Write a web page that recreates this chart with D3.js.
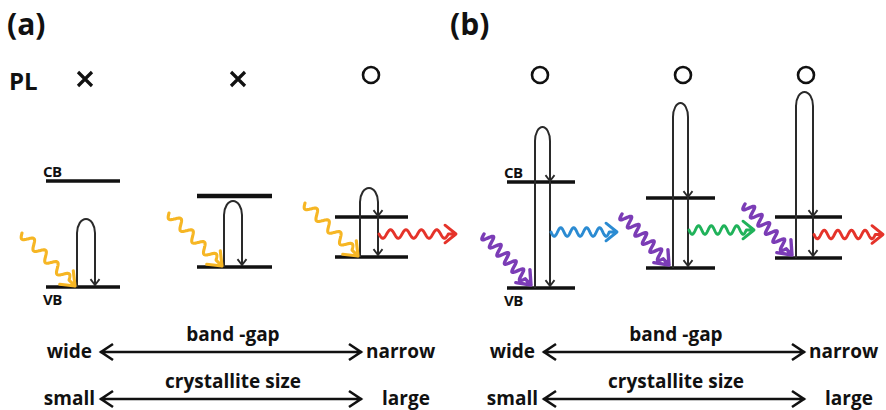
<!DOCTYPE html>
<html>
<head>
<meta charset="utf-8">
<script src="https://cdn.jsdelivr.net/npm/d3@7"></script>
<style>
  body { margin: 0; background: #fff; }
  text { font-family: "Open Sans", sans-serif; font-weight: 700; fill: #111; }
</style>
</head>
<body>
<div id="diagram"></div>
<script>
// ---- data (energies in arbitrary units, VB/CB/excitation apex per diagram) ----
const panels = ["(a)", "(b)"];
const plMarks = ["x", "x", "o", "o", "o", "o"];
const vbEnergy = [13, 33, 43, 12, 32, 42];
const cbEnergy = [119, 104, 83, 118, 102, 83];
const apexEnergy = [81, 99, 112, 173, 197, 208];
const excitation = ["visible", "visible", "visible", "uv", "uv", "uv"];
const emission = [null, null, "red", "blue", "green", "red"];
const bandLabels = ["wide", "band -gap", "narrow"];
const sizeLabels = ["small", "crystallite size", "large"];

// ---- layout ----
const width = 886, height = 410;
const panelX = [0, 443];
const diag = [
  { x: 46,  w: 74, up: 31, lw: 18, mark: 85,  emit: 0 },
  { x: 197, w: 75, up: 27, lw: 18, mark: 238, emit: 0 },
  { x: 335, w: 73, up: 25, lw: 18, mark: 371, emit: 77 },
  { x: 507, w: 68, up: 28, lw: 15, mark: 540, emit: 66 },
  { x: 646, w: 69, up: 27, lw: 15, mark: 683, emit: 65 },
  { x: 775, w: 67, up: 21, lw: 17, mark: 806, emit: 69 }
];
const waveColor = { visible: "#f6b624", uv: "#7b3cb6", red: "#e5332a", blue: "#2b8bd2", green: "#20b25a" };

const svg = d3.select("#diagram")
  .append("svg")
    .attr("width", width)
    .attr("height", height);

// energy -> vertical position
const y = d3.scaleLinear().domain([0, 200]).range([300, 100]);

// wavy arrow path with open chevron head
function wavy(x0, y0, x1, y1, waves, amp, head) {
  const dx = x1 - x0, dy = y1 - y0, L = Math.hypot(dx, dy);
  const ux = dx / L, uy = dy / L, nx = -uy, ny = ux;
  const wl = L - head * 0.7;
  const pts = [];
  for (let i = 0; i <= 160; i++) {
    const t = i / 160 * wl;
    const off = amp * Math.sin(2 * Math.PI * waves * t / wl);
    pts.push([x0 + ux * t + nx * off, y0 + uy * t + ny * off]);
  }
  pts.push([x1, y1]);
  const hw = head * 0.8;
  const b = [x1 - ux * head, y1 - uy * head];
  return d3.line()(pts) +
    `M${b[0] + nx * hw},${b[1] + ny * hw}L${x1},${y1}L${b[0] - nx * hw},${b[1] - ny * hw}`;
}

function chevronDown(x, yTip, s) {
  return `M${x - s},${yTip - s * 1.3}L${x},${yTip}L${x + s},${yTip - s * 1.3}`;
}

// panel letters and PL label
svg.selectAll(".panel")
  .data(panels)
  .join("text")
    .attr("class", "panel")
    .attr("x", (d, i) => panelX[i] + 7)
    .attr("y", 35)
    .style("font-size", "30px")
    .text(d => d);

svg.append("text")
  .attr("x", 9)
  .attr("y", 90)
  .style("font-size", "24px")
  .text("PL");

// PL marks
plMarks.forEach((m, i) => {
  const cx = diag[i].mark;
  if (m === "x") {
    svg.append("path")
      .attr("d", `M${cx - 7},${72}L${cx + 7},${86}M${cx + 7},${72}L${cx - 7},${86}`)
      .attr("stroke", "#111").attr("stroke-width", 3.2).attr("fill", "none");
  } else {
    svg.append("circle")
      .attr("cx", cx).attr("cy", 75).attr("r", 8)
      .attr("stroke", "#111").attr("stroke-width", 2.6).attr("fill", "none");
  }
});

// band diagrams
diag.forEach((d, i) => {
  const g = svg.append("g");
  const yVB = y(vbEnergy[i]), yCB = y(cbEnergy[i]), yTop = y(apexEnergy[i]);
  const xu = d.x + d.up, xd = xu + d.lw;

  // levels
  [yCB, yVB].forEach(yy => {
    g.append("line")
      .attr("x1", d.x).attr("x2", d.x + d.w)
      .attr("y1", yy).attr("y2", yy)
      .attr("stroke", "#111").attr("stroke-width", i === 1 && yy === yCB ? 4.5 : 3.6);
  });

  // excitation loop
  const ry = Math.min(14, (yVB - yTop) / 3);
  g.append("path")
    .attr("d", `M${xu},${yVB}L${xu},${yTop + ry}A${d.lw / 2},${ry} 0 0 1 ${xd},${yTop + ry}L${xd},${yVB - 1}`)
    .attr("fill", "none").attr("stroke", "#2a2a2a").attr("stroke-width", 2);
  if (yTop < yCB) {
    g.append("path").attr("d", chevronDown(xd, yCB - 1, 4.5))
      .attr("fill", "none").attr("stroke", "#2a2a2a").attr("stroke-width", 1.8);
  }
  g.append("path").attr("d", chevronDown(xd, yVB - 2, 4.5))
    .attr("fill", "none").attr("stroke", "#2a2a2a").attr("stroke-width", 1.8);

  // incoming light
  const uv = excitation[i] === "uv";
  const ex = xu - (uv ? 4 : 2), ey = yVB - (uv ? 3 : 1);
  g.append("path")
    .attr("d", uv ? wavy(ex - 47, ey - 51, ex, ey, 5.5, 5.2, 12) : wavy(ex - 53, ey - 53, ex, ey, 4, 4.5, 12))
    .attr("fill", "none")
    .attr("stroke", waveColor[excitation[i]])
    .attr("stroke-width", uv ? 3.4 : 3.1)
    .attr("stroke-linecap", "round").attr("stroke-linejoin", "round");

  // emitted light
  if (emission[i]) {
    const ym = (yCB + yVB) / 2 - 3;
    g.append("path")
      .attr("d", wavy(xd + 1, ym, xd + 1 + d.emit, ym, 4.5, 4.3, 11))
      .attr("fill", "none")
      .attr("stroke", waveColor[emission[i]])
      .attr("stroke-width", 2.9)
      .attr("stroke-linecap", "round").attr("stroke-linejoin", "round");
  }
});

// CB / VB labels
[0, 3].forEach(i => {
  const d = diag[i];
  svg.append("text").attr("x", d.x - 3).attr("y", y(cbEnergy[i]) - 4)
    .style("font-size", "15px").style("letter-spacing", "-0.5px").text("CB");
  svg.append("text").attr("x", d.x - 3).attr("y", y(vbEnergy[i]) + 18)
    .style("font-size", "15px").style("letter-spacing", "-0.5px").text("VB");
});

// double-headed scale arrows
const rows = [{ labels: bandLabels, y: 352 }, { labels: sizeLabels, y: 399 }];
panelX.forEach(px => {
  rows.forEach((r, k) => {
    const x1 = px + 100, x2 = px + 362;
    svg.append("path")
      .attr("d", `M${x1},${r.y}L${x2},${r.y}M${x1 + 13},${r.y - 8}L${x1 + 1},${r.y}L${x1 + 13},${r.y + 8}M${x2 - 13},${r.y - 8}L${x2 - 1},${r.y}L${x2 - 13},${r.y + 8}`)
      .attr("fill", "none").attr("stroke", "#111").attr("stroke-width", 2.6);
    svg.append("text").attr("x", px + (k === 0 ? 92 : 95)).attr("y", r.y + 6)
      .attr("text-anchor", "end").style("font-size", "19px").text(r.labels[0]);
    svg.append("text").attr("x", px + 233).attr("y", r.y - 11)
      .attr("text-anchor", "middle").style("font-size", "19px").text(r.labels[1]);
    svg.append("text").attr("x", px + (k === 0 ? 366 : 382)).attr("y", r.y + 6)
      .style("font-size", "19px").text(r.labels[2]);
  });
});
</script>
</body>
</html>
